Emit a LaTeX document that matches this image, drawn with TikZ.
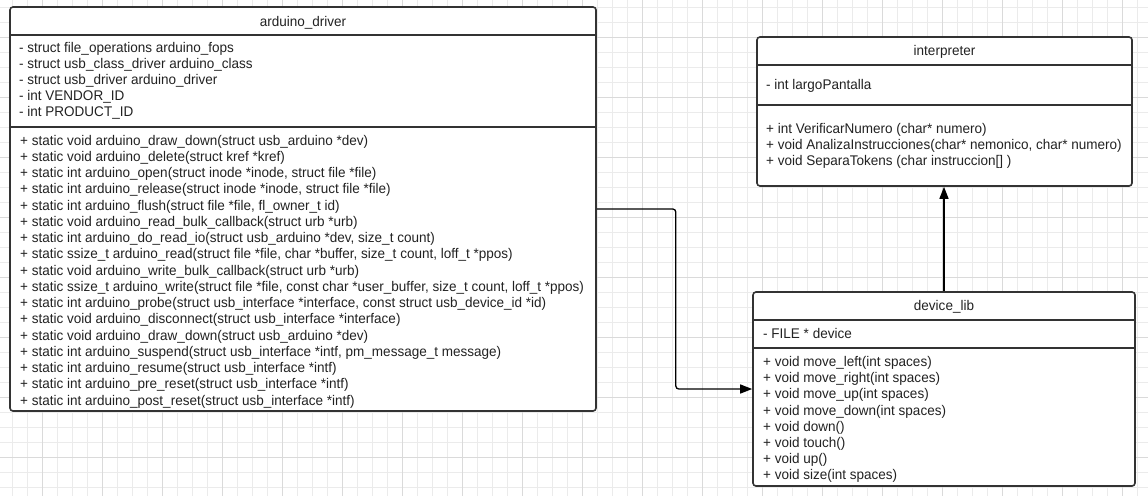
\documentclass[tikz,border=0pt]{standalone}
\usepackage{fontspec}
\setmainfont[FakeStretch=0.965]{Liberation Sans}
\usetikzlibrary{arrows.meta}
\definecolor{boxgray}{HTML}{333333}
\definecolor{textgray}{HTML}{222222}
\definecolor{gridminor}{HTML}{EBEBEB}
\definecolor{gridmajor}{HTML}{DADADA}
\begin{document}
\begin{tikzpicture}[x=1pt,y=-1pt,
  umlbox/.style={draw=boxgray, line width=1.6pt, rounded corners=3pt, fill=white, inner sep=0pt},
  sepline/.style={draw=boxgray, line width=1.4pt},
  txt/.style={anchor=base west, inner sep=0pt, font=\fontsize{14}{16}\selectfont, text=textgray},
  ttl/.style={anchor=base, inner sep=0pt, font=\fontsize{14}{16}\selectfont, text=textgray},
  conn/.style={draw=black, line width=1.3pt, rounded corners=3pt, -{Triangle[length=12pt,width=9pt]}},
  gminor/.style={draw=gridminor, line width=0.8pt},
  gmajor/.style={draw=gridmajor, line width=0.8pt}]
\useasboundingbox (0,0) rectangle (1148,496);
\fill[white] (0,0) rectangle (1148,496);
% grid
\foreach \x in {12,27,...,1137} \draw[gminor] (\x,0) -- (\x,496);
\foreach \y in {7,22,...,492} \draw[gminor] (0,\y) -- (1148,\y);
\foreach \x in {42,102,...,1122} \draw[gmajor] (\x,0) -- (\x,496);
\foreach \y in {37,97,...,457} \draw[gmajor] (0,\y) -- (1148,\y);

% arduino_driver
\node[umlbox, minimum width=586pt, minimum height=404pt] (ard) at (303,209) {};
\draw[sepline] (ard.west |- 0,35) -- (ard.east |- 0,35);
\draw[sepline] (ard.west |- 0,127) -- (ard.east |- 0,127);
\node[ttl] (ardtitle) at (303,26) {arduino\_driver};
\foreach \t [count=\i] in {
  {- struct file\_operations arduino\_fops},
  {- struct usb\_class\_driver arduino\_class},
  {- struct usb\_driver arduino\_driver},
  {- int VENDOR\_ID},
  {- int PRODUCT\_ID}}
  \node[txt] (aa\i) at (19,{47.5+16.1*(\i-1)+5}) {\t};
\foreach \t [count=\i] in {
  {+ static void arduino\_draw\_down(struct usb\_arduino *dev)},
  {+ static void arduino\_delete(struct kref *kref)},
  {+ static int arduino\_open(struct inode *inode, struct file *file)},
  {+ static int arduino\_release(struct inode *inode, struct file *file)},
  {+ static int arduino\_flush(struct file *file, fl\_owner\_t id)},
  {+ static void arduino\_read\_bulk\_callback(struct urb *urb)},
  {+ static int arduino\_do\_read\_io(struct usb\_arduino *dev, size\_t count)},
  {+ static ssize\_t arduino\_read(struct file *file, char *buffer, size\_t count, loff\_t *ppos)},
  {+ static void arduino\_write\_bulk\_callback(struct urb *urb)},
  {+ static ssize\_t arduino\_write(struct file *file, const char *user\_buffer, size\_t count, loff\_t *ppos)},
  {+ static int arduino\_probe(struct usb\_interface *interface, const struct usb\_device\_id *id)},
  {+ static void arduino\_disconnect(struct usb\_interface *interface)},
  {+ static void arduino\_draw\_down(struct usb\_arduino *dev)},
  {+ static int arduino\_suspend(struct usb\_interface *intf, pm\_message\_t message)},
  {+ static int arduino\_resume(struct usb\_interface *intf)},
  {+ static int arduino\_pre\_reset(struct usb\_interface *intf)},
  {+ static int arduino\_post\_reset(struct usb\_interface *intf)}}
  \node[txt] (am\i) at (20,{140+16.25*(\i-1)+5}) {\t};

% interpreter
\node[umlbox, minimum width=375pt, minimum height=149pt] (intp) at (944.5,111.5) {};
\draw[sepline] (intp.west |- 0,65) -- (intp.east |- 0,65);
\draw[sepline] (intp.west |- 0,105) -- (intp.east |- 0,105);
\node[ttl] (intptitle) at (944.5,55.5) {interpreter};
\node[txt] (ia1) at (766,89) {- int largoPantalla};
\foreach \t [count=\i] in {
  {+ int VerificarNumero (char* numero)},
  {+ void AnalizaInstrucciones(char* nemonico, char* numero)},
  {+ void SeparaTokens (char instruccion[] )}}
  \node[txt] (im\i) at (766,{128.3+16*(\i-1)+5}) {\t};

% device_lib
\node[umlbox, minimum width=382pt, minimum height=194pt] (dev) at (944,389) {};
\draw[sepline] (dev.west |- 0,320) -- (dev.east |- 0,320);
\draw[sepline] (dev.west |- 0,348) -- (dev.east |- 0,348);
\node[ttl] (devtitle) at (944,310.5) {device\_lib};
\node[txt] (da1) at (763,338) {- FILE * device};
\foreach \t [count=\i] in {
  {+ void move\_left(int spaces)},
  {+ void move\_right(int spaces)},
  {+ void move\_up(int spaces)},
  {+ void move\_down(int spaces)},
  {+ void down()},
  {+ void touch()},
  {+ void up()},
  {+ void size(int spaces)}}
  \node[txt] (dm\i) at (763,{361.5+16.2*(\i-1)+5}) {\t};

% connectors
\draw[conn] (ard.east) -- ++(79,0) |- (dev.west);
\draw[conn] (dev.north) -- (dev.north |- intp.south);
\end{tikzpicture}
\end{document}
